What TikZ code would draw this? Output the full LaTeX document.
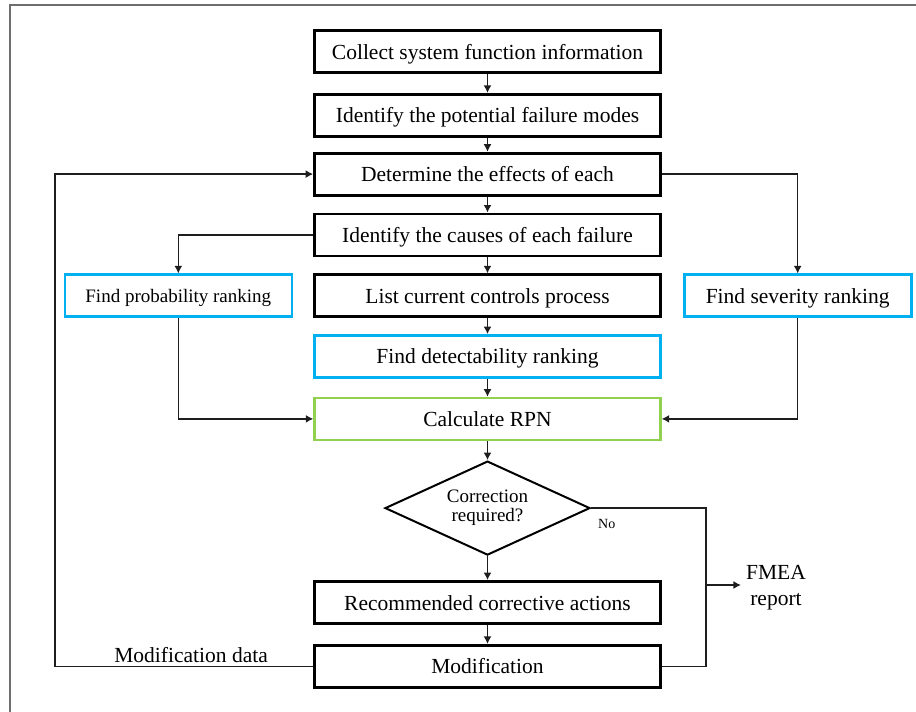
\documentclass[tikz,border=0pt]{standalone}
\usepackage{fontspec}
\setmainfont{Liberation Serif}
\definecolor{rankblue}{RGB}{0, 176, 240}
\definecolor{rpngreen}{RGB}{146, 208, 80}
\definecolor{framegray}{RGB}{110, 110, 110}
\definecolor{linkgray}{RGB}{30, 30, 30}
\usetikzlibrary{
  arrows.meta,
  calc,
  positioning,
  shapes.geometric,
}
\tikzset{
  >={Latex[length=7.5pt,width=8pt]},
  stepbox/.style={draw,rectangle,line width=2.8pt,minimum width=346pt,minimum height=42pt,inner sep=0pt,text height=16pt,text depth=1pt,font=\fontsize{21.5}{24}\selectfont},
  rankbox/.style={draw=rankblue,rectangle,line width=2.6pt,minimum width=227pt,minimum height=42pt,inner sep=0pt,text height=16pt,text depth=1pt,font=\fontsize{21.5}{24}\selectfont},
  calcbox/.style={draw=rpngreen,rectangle,line width=2.4pt,minimum width=346pt,minimum height=42pt,inner sep=0pt,text height=16pt,text depth=1pt,font=\fontsize{21.5}{24}\selectfont},
  decision/.style={draw,diamond,aspect=2.2,line width=2pt,minimum width=205pt,minimum height=94pt,inner sep=0pt,align=center,font=\fontsize{19}{19}\selectfont},
  link/.style={draw=linkgray,line width=1.4pt},
  plaintext/.style={inner sep=3pt,align=center,font=\fontsize{21.5}{26}\selectfont},
}
\begin{document}
\begin{tikzpicture}

        \useasboundingbox (0pt,0pt) rectangle (916pt,-712pt);
        \draw[framegray,line width=1.2pt] (10pt,-712pt) -- (10pt,-5pt) -- (916pt,-5pt);

        % main column
        \node[stepbox]    (box1)    at (487.5pt,-51.5pt)   {Collect system function information};
        \node[stepbox]    (box2)    [below=19pt of box1]   {Identify the potential failure modes};
        \node[stepbox]    (box3)    [below=14pt of box2]   {Determine the effects of each};
        \node[stepbox]    (box4)    [below=16pt of box3]   {Identify the causes of each failure};
        \node[stepbox]    (box5)    [below=16pt of box4]   {List current controls process};
        \node[rankbox,minimum width=346pt]    (detect)    [below=16pt of box5]   {Find detectability ranking};
        \node[calcbox]    (rpn)     [below=18pt of detect]   {Calculate RPN};
        \node[decision]   (dec)     [below=19pt of rpn]   {Correction\\required?};
        \node[stepbox]    (box8)    [below=24pt of dec]   {Recommended corrective actions};
        \node[stepbox]    (box9)    [below=19pt of box8]   {Modification};

        % side boxes
        \node[rankbox,font=\fontsize{19}{22}\selectfont,text height=15pt,text depth=1pt]    (prob)    [left=20pt of box5]   {Find probability ranking};
        \node[rankbox]    (sev)     [right=21pt of box5]   {Find severity ranking};

        % labels
        \node[inner sep=0pt,font=\fontsize{14}{14}\selectfont]    (nolabel)    [below right=11pt and 7pt of dec.east]   {No};
        \coordinate (bus) at (706pt,-585pt);
        \node[plaintext,inner sep=5pt]    (report)    at (776pt,-588pt)   {FMEA\\report};
        \node[plaintext]    (moddata)    [above=0pt of box9.west,xshift=-122pt]   {Modification data};

        \foreach \a/\b in {box1/box2,box2/box3,box3/box4,box4/box5,box5/detect,detect/rpn,rpn/dec,dec/box8,box8/box9}
            \draw[link,->] (\a.south) -- (\b.north);

        \draw[link,->] (box4.west) -| (prob.north);
        \draw[link,->] (prob.south) |- (rpn.west);
        \draw[link,->] (box3.east) -| (sev.north);
        \draw[link,->] (sev.south) |- (rpn.east);

        \draw[link] (dec.east) -- (dec.east -| bus) -- (box9.east -| bus) -- (box9.east);
        \draw[link,->] (bus) -- (bus -| report.west);

        \draw[link,->] (box9.west) -- ++(-258pt,0pt) |- (box3.west);

    \end{tikzpicture}
\end{document}
